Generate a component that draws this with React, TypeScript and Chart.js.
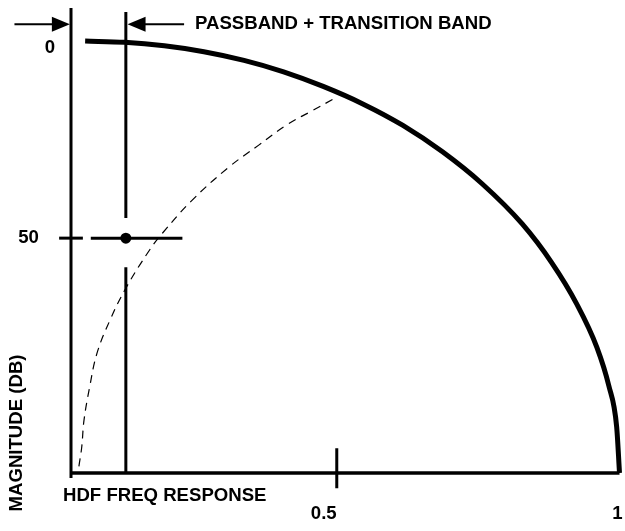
import React, { useEffect, useRef } from "react";
import { Chart, registerables } from "chart.js";

Chart.register(...registerables);

// HDF frequency response (solid, thick)
const responseX = [0.055, 0.125, 0.195, 0.265, 0.336, 0.406, 0.476, 0.547, 0.617, 0.687, 0.757, 0.828, 0.88, 0.924, 0.96, 0.981, 0.995, 1.0];
const responseY = [0, 0.3, 1.2, 2.7, 4.9, 7.8, 11.5, 16.0, 21.4, 28.1, 36.2, 46.4, 56.2, 66.6, 77.7, 87.4, 97.9, 109.6];

// dashed curve
const dashedX = [0.044, 0.049, 0.053, 0.063, 0.076, 0.099, 0.127, 0.169, 0.192, 0.244, 0.309, 0.362, 0.411, 0.455, 0.494];
const dashedY = [107.9, 103.0, 96.2, 87.8, 79.2, 70.8, 62.7, 53.0, 48.7, 40.4, 32.0, 26.4, 21.3, 17.8, 14.7];

// axes extents
const axisXMin = 0.03;
const axisXMax = 1.0;
const axisYTop = -8.4;
const axisYBottom = 109.6;
const axisYLineEnd = 110.9;

// passband + transition band edge
const bandEdgeX = 0.127;
const bandEdgeUpperY = [-7.4, 44.9];
const bandEdgeLowerY = [57.4, 109.6];
const markerX = [0.127];
const markerY = [50];
const levelLineX = [0.065, 0.227];
const levelValue = 50;
const yTickMarkX = [0.009, 0.051];
const xTickMarkValue = 0.5;
const xTickMarkY = [103.3, 113.5];

// arrows above the plot
const arrowY = -4.3;
const leftArrowShaftX = [-0.07, 0.01];
const rightArrowShaftX = [0.145, 0.23];
const arrowTipX = [0.028, 0.13];
const arrowDir = [1, -1];

// labels
const yTickValues = [0, 50];
const yTickLabels = ["0", "50"];
const xTickValues = [0.5, 1];
const xTickLabels = ["0.5", "1"];
const bandLabel = "PASSBAND + TRANSITION BAND";
const xTitle = "HDF FREQ RESPONSE";
const yTitle = "MAGNITUDE (DB)";

const pts = (xs: number[], ys: number[]) => xs.map((x, i) => ({ x, y: ys[i] }));

const FONT = "bold 18.6px 'Liberation Sans', Arial, sans-serif";

const decorPlugin = {
  id: "decor",
  afterDatasetsDraw(chart: any) {
    const ctx = chart.ctx;
    const xs = chart.scales.x;
    const ys = chart.scales.y;
    ctx.save();
    ctx.fillStyle = "#000";
    // arrowheads
    arrowTipX.forEach((tx, i) => {
      const px = xs.getPixelForValue(tx);
      const py = ys.getPixelForValue(arrowY);
      const d = arrowDir[i];
      ctx.beginPath();
      ctx.moveTo(px, py);
      ctx.lineTo(px - d * 18, py - 7.5);
      ctx.lineTo(px - d * 18, py + 7.5);
      ctx.closePath();
      ctx.fill();
    });
    ctx.font = FONT;
    ctx.textBaseline = "middle";
    // y tick labels
    ctx.textAlign = "center";
    const yLabelX = [50, 28.5];
    const yLabelDy = [6.5, -0.5];
    yTickValues.forEach((v, i) => {
      ctx.fillText(yTickLabels[i], yLabelX[i], ys.getPixelForValue(v) + yLabelDy[i]);
    });
    // x tick labels
    const xLabelDx = [-13, -2];
    xTickValues.forEach((v, i) => {
      ctx.fillText(xTickLabels[i], xs.getPixelForValue(v) + xLabelDx[i], 514);
    });
    // band label
    ctx.textAlign = "left";
    ctx.fillText(bandLabel, 195, ys.getPixelForValue(arrowY));
    // x title
    ctx.fillText(xTitle, 63, 496);
    // y title
    ctx.save();
    ctx.translate(17, 433);
    ctx.rotate(-Math.PI / 2);
    ctx.textAlign = "center";
    ctx.fillText(yTitle, 0, 0);
    ctx.restore();
    ctx.restore();
  },
};

export default function App() {
  const ref = useRef<HTMLCanvasElement | null>(null);
  useEffect(() => {
    if (!ref.current) return;
    const black = "#000";
    const line = (data: any[], width: number, extra: any = {}) => ({
      data,
      showLine: true,
      borderColor: black,
      borderWidth: width,
      pointRadius: 0,
      pointHoverRadius: 0,
      clip: false,
      ...extra,
    });
    const chart = new Chart(ref.current, {
      type: "scatter",
      data: {
        datasets: [
          line(pts([axisXMin, axisXMin], [axisYTop, axisYLineEnd]), 3),
          line(pts([axisXMin, axisXMax], [axisYBottom, axisYBottom]), 3.5),
          line(pts([bandEdgeX, bandEdgeX], bandEdgeUpperY), 3),
          line(pts([bandEdgeX, bandEdgeX], bandEdgeLowerY), 3),
          line(pts(levelLineX, [levelValue, levelValue]), 3),
          line(pts(yTickMarkX, [levelValue, levelValue]), 3),
          line(pts([xTickMarkValue, xTickMarkValue], xTickMarkY), 3),
          line(pts(leftArrowShaftX, [arrowY, arrowY]), 2),
          line(pts(rightArrowShaftX, [arrowY, arrowY]), 2),
          line(pts(dashedX, dashedY), 1.2, { borderDash: [8, 6], tension: 0.4 }),
          line(pts(responseX, responseY), 5, { cubicInterpolationMode: "monotone" }),
          {
            data: pts(markerX, markerY),
            pointRadius: 5.5,
            pointHoverRadius: 5.5,
            backgroundColor: black,
            borderColor: black,
            borderWidth: 0,
            clip: false,
          },
        ],
      },
      options: {
        animation: false,
        responsive: false,
        events: [],
        layout: { padding: { left: 71, top: 8, right: 2, bottom: 58 } },
        plugins: { legend: { display: false }, tooltip: { enabled: false } },
        scales: {
          x: { type: "linear", min: axisXMin, max: axisXMax, display: false },
          y: { type: "linear", min: axisYTop, max: axisYBottom, reverse: true, display: false },
        },
      },
      plugins: [decorPlugin],
    });
    return () => chart.destroy();
  }, []);
  return (
    <div style={{ position: "absolute", left: 0, top: 0, width: 625, height: 531, background: "#fff" }}>
      <canvas ref={ref} width={625} height={531} />
    </div>
  );
}
